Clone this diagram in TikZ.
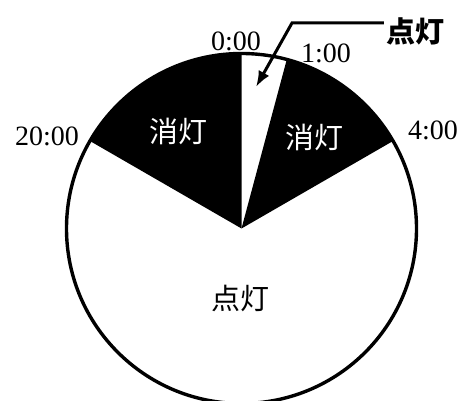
\documentclass[tikz,border=0pt]{standalone}
\usepackage{fontspec}
\newfontfamily\jp{Noto Sans CJK JP}
\newfontfamily\numfont{Liberation Serif}
\usetikzlibrary{arrows.meta}
\begin{document}
\begin{tikzpicture}[x=1pt,y=1pt,
  timelbl/.style={font=\numfont\fontsize{28}{30}\selectfont, inner sep=0pt},
  jplbl/.style={font=\jp\fontsize{29}{31}\selectfont, inner sep=2pt},
  wedge/.style={fill=black},
  rim/.style={draw=black, line width=3.4pt},
  pointer/.style={line width=3pt, -{Latex[length=16pt,width=12pt]}}]
\useasboundingbox (0,0) rectangle (463,401);
\coordinate (c) at (241.5,172.5);
% black wedges
\fill[wedge] (c) -- ++(75:175) arc[start angle=75, end angle=30, radius=175] -- cycle;
\fill[wedge] (c) -- ++(90:175) arc[start angle=90, end angle=150, radius=175] -- cycle;
% rim
\draw[rim] (c) circle[radius=175];
% time labels
\node[timelbl] (t0) at (236,360) {0:00};
\node[timelbl] (t1) at (326,348) {1:00};
\node[timelbl] (t4) at (433,271) {4:00};
\node[timelbl] (t20) at (47,265) {20:00};
% Japanese labels
\node[jplbl, text=white] (offL) at (178,270) {消灯};
\node[jplbl, text=white] (offR) at (314,264) {消灯};
\node[jplbl] (onB) at (240,103) {点灯};
\node[jplbl, font=\jp\bfseries\fontsize{29}{31}\selectfont] (onT) at (415,370) {点灯};
% pointer
\coordinate (bend) at (292,378);
\coordinate (tip) at (256,314);
\draw[pointer] (bend -| onT.west) -- (bend) -- (tip);
\end{tikzpicture}
\end{document}
